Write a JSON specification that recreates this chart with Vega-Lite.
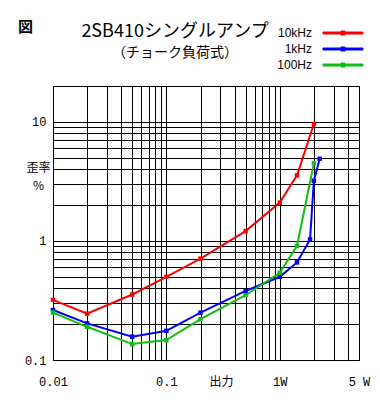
{
  "$schema": "https://vega.github.io/schema/vega-lite/v6.json",
  "width": 306,
  "height": 274,
  "autosize": {"type": "none"},
  "padding": {"left": 53, "top": 86, "right": 21, "bottom": 40},
  "background": "white",
  "title": {
    "text": "2SB410シングルアンプ",
    "subtitle": "（チョーク負荷式）",
    "anchor": "middle",
    "frame": "group",
    "dx": -31,
    "offset": -33,
    "font": "Noto Sans CJK JP",
    "fontSize": 18,
    "fontWeight": "normal",
    "color": "black",
    "subtitleFont": "Noto Sans CJK JP",
    "subtitleFontSize": 14,
    "subtitleColor": "black",
    "subtitlePadding": 5
  },
  "data": {
    "values": [
      {"f": "10kHz", "p": 0.01, "d": 0.32},
      {"f": "10kHz", "p": 0.02, "d": 0.245},
      {"f": "10kHz", "p": 0.05, "d": 0.355},
      {"f": "10kHz", "p": 0.1, "d": 0.5},
      {"f": "10kHz", "p": 0.2, "d": 0.71},
      {"f": "10kHz", "p": 0.5, "d": 1.21},
      {"f": "10kHz", "p": 1, "d": 2.1},
      {"f": "10kHz", "p": 1.42, "d": 3.55},
      {"f": "10kHz", "p": 2, "d": 9.6},
      {"f": "1kHz", "p": 0.01, "d": 0.263},
      {"f": "1kHz", "p": 0.02, "d": 0.203},
      {"f": "1kHz", "p": 0.05, "d": 0.157},
      {"f": "1kHz", "p": 0.1, "d": 0.176},
      {"f": "1kHz", "p": 0.2, "d": 0.25},
      {"f": "1kHz", "p": 0.5, "d": 0.38},
      {"f": "1kHz", "p": 1, "d": 0.5},
      {"f": "1kHz", "p": 1.42, "d": 0.66},
      {"f": "1kHz", "p": 1.85, "d": 1.03},
      {"f": "1kHz", "p": 2, "d": 3.2},
      {"f": "1kHz", "p": 2.25, "d": 4.9},
      {"f": "100Hz", "p": 0.01, "d": 0.25},
      {"f": "100Hz", "p": 0.02, "d": 0.19},
      {"f": "100Hz", "p": 0.05, "d": 0.136},
      {"f": "100Hz", "p": 0.1, "d": 0.147},
      {"f": "100Hz", "p": 0.2, "d": 0.22},
      {"f": "100Hz", "p": 0.5, "d": 0.35},
      {"f": "100Hz", "p": 1, "d": 0.54},
      {"f": "100Hz", "p": 1.42, "d": 0.91},
      {"f": "100Hz", "p": 2, "d": 4.5}
    ]
  },
  "mark": {
    "type": "line",
    "strokeWidth": 2,
    "point": {"shape": "square", "size": 20, "filled": true}
  },
  "encoding": {
    "x": {
      "field": "p",
      "type": "quantitative",
      "scale": {"type": "log", "domain": [0.01, 5], "nice": false},
      "axis": {
        "values": [0.01, 0.02, 0.03, 0.04, 0.05, 0.06, 0.07, 0.08, 0.09, 0.1, 0.2, 0.3, 0.4, 0.5, 0.6, 0.7, 0.8, 0.9, 1, 2, 3, 4, 5],
        "labelExpr": "datum.value == 0.01 ? '0.01' : datum.value == 0.1 ? '0.1' : datum.value == 1 ? '1W' : datum.value == 5 ? '5 W' : ''",
        "labelOverlap": false,
        "labelFlush": false,
        "labelFont": "Liberation Mono",
        "labelFontSize": 12,
        "labelColor": "black",
        "labelBaseline": "middle",
        "labelPadding": 21,
        "ticks": false,
        "tickSize": 0,
        "domain": false,
        "grid": true,
        "gridColor": "black",
        "gridOpacity": 1,
        "gridWidth": 1,
        "title": "出力",
        "titleFont": "Noto Sans CJK JP",
        "titleFontSize": 12,
        "titleFontWeight": "normal",
        "titleColor": "black",
        "titleX": 168,
        "titleY": 21,
        "titleAlign": "center",
        "titleBaseline": "middle",
        "titleAngle": 0
      }
    },
    "y": {
      "field": "d",
      "type": "quantitative",
      "scale": {"type": "log", "domain": [0.1, 20], "nice": false},
      "axis": {
        "values": [0.1, 0.2, 0.3, 0.4, 0.5, 0.6, 0.7, 0.8, 0.9, 1, 2, 3, 4, 5, 6, 7, 8, 9, 10],
        "labelExpr": "datum.value == 0.1 ? '0.1' : datum.value == 1 ? '1' : datum.value == 10 ? '10' : ''",
        "labelOverlap": false,
        "labelFlush": false,
        "labelFont": "Liberation Mono",
        "labelFontSize": 12,
        "labelColor": "black",
        "labelPadding": 7,
        "ticks": false,
        "tickSize": 0,
        "domain": false,
        "grid": true,
        "gridColor": "black",
        "gridOpacity": 1,
        "gridWidth": 1,
        "title": ["歪率", "%"],
        "titleFont": "Noto Sans CJK JP",
        "titleFontSize": 12,
        "titleFontWeight": "normal",
        "titleColor": "black",
        "titleLineHeight": 18,
        "titleAngle": 0,
        "titleX": -15,
        "titleY": 81,
        "titleAlign": "center",
        "titleBaseline": "middle"
      }
    },
    "color": {
      "field": "f",
      "type": "nominal",
      "scale": {"domain": ["10kHz", "1kHz", "100Hz"], "range": ["#ff0000", "#0000ff", "#10c010"]},
      "legend": {
        "orient": "none",
        "legendX": -35,
        "legendY": -59,
        "title": "図",
        "titleOrient": "left",
        "titleAnchor": "start",
        "titlePadding": 303,
        "titleFont": "Noto Sans CJK JP",
        "titleFontSize": 15,
        "titleFontWeight": "bold",
        "titleColor": "black",
        "titleBaseline": "middle",
        "padding": 0,
        "symbolType": "M-5,-0.25H5V0.25H-5ZM-0.5,-0.5H0.5V0.5H-0.5Z",
        "symbolSize": 64,
        "symbolStrokeWidth": 1,
        "rowPadding": 4,
        "labelAlign": "right",
        "labelOffset": -37,
        "labelFont": "Liberation Sans",
        "labelFontSize": 12,
        "labelColor": "black"
      }
    }
  },
  "config": {
    "view": {"stroke": "black", "strokeWidth": 1}
  }
}
